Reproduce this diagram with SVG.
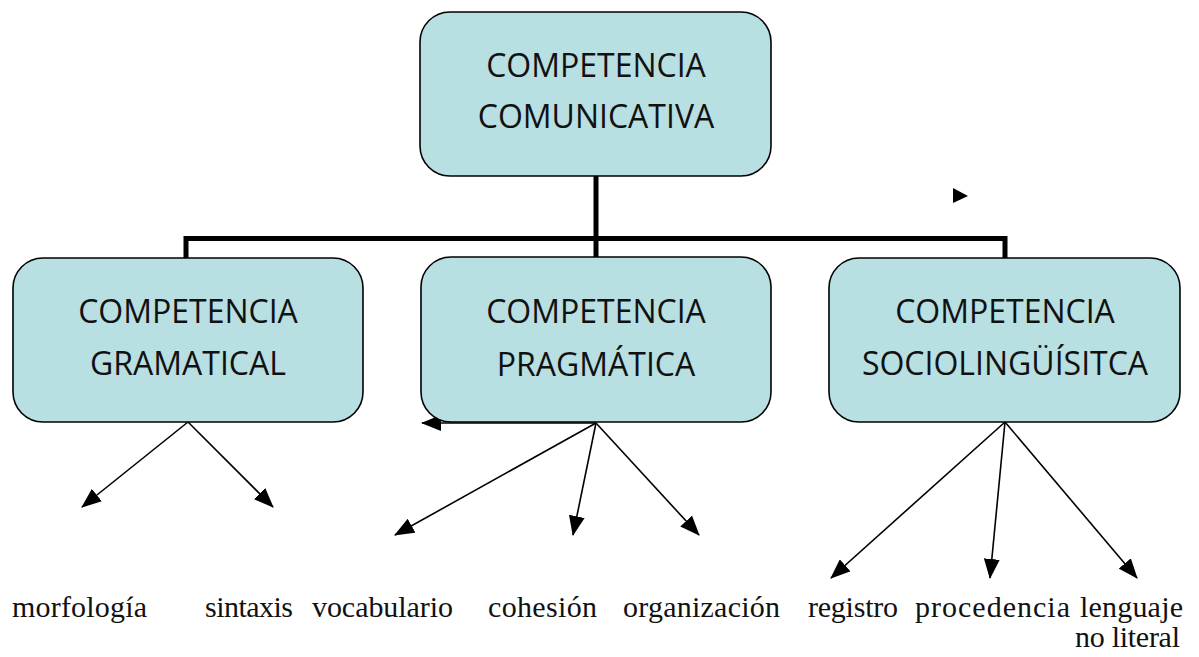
<svg xmlns="http://www.w3.org/2000/svg" width="1199" height="657" viewBox="0 0 1199 657">
<style>
.box{fill:#b8dfe2;stroke:#000;stroke-width:1.6}
.bt{font-family:"Open Sans","Liberation Sans",sans-serif;font-size:32px;fill:#111;text-anchor:middle}
.lb{font-family:"Liberation Serif","DejaVu Serif",serif;font-size:30px;fill:#111}
.thick{fill:none;stroke:#000;stroke-width:5}
.arr{fill:none;stroke:#000;stroke-width:1.6;marker-end:url(#ah)}
</style>
<defs>
<marker id="ah" markerUnits="userSpaceOnUse" markerWidth="20" markerHeight="16" viewBox="0 0 20 16" refX="19" refY="8" orient="auto">
<path d="M0,0 L20,8 L0,16 Z" fill="#000"/>
</marker>
</defs>
<g id="connectors">
<path class="thick" d="M596,176 V257"/>
<path class="thick" d="M186,258 V238.5 H1005 V258"/>
<line class="arr" x1="188" y1="422" x2="82" y2="507"/>
<line class="arr" x1="188" y1="422" x2="273" y2="507"/>
<line class="arr" x1="596" y1="423" x2="422" y2="423"/>
<line class="arr" x1="596" y1="423" x2="395" y2="535"/>
<line class="arr" x1="596" y1="423" x2="573" y2="535"/>
<line class="arr" x1="596" y1="423" x2="699" y2="535"/>
<line class="arr" x1="1005" y1="422" x2="831" y2="578"/>
<line class="arr" x1="1005" y1="422" x2="990" y2="578"/>
<line class="arr" x1="1005" y1="422" x2="1137" y2="578"/>
<path d="M953,188 L968,196 L953,203 Z" fill="#000"/>
</g>
<g id="node-comunicativa">
<rect class="box" x="420" y="12" width="351" height="164" rx="30"/>
<text class="bt" x="596" y="77">COMPETENCIA</text>
<text class="bt" x="596" y="128">COMUNICATIVA</text>
</g>
<g id="node-gramatical">
<rect class="box" x="13" y="258" width="350" height="164" rx="30"/>
<text class="bt" x="188" y="323">COMPETENCIA</text>
<text class="bt" x="188" y="375">GRAMATICAL</text>
</g>
<g id="node-pragmatica">
<rect class="box" x="421" y="257" width="350" height="165" rx="30"/>
<text class="bt" x="596" y="323">COMPETENCIA</text>
<text class="bt" x="596" y="376">PRAGMÁTICA</text>
</g>
<g id="node-sociolinguistica">
<rect class="box" x="829" y="258" width="351" height="164" rx="30"/>
<text class="bt" x="1005" y="323">COMPETENCIA</text>
<text class="bt" x="1005" y="375">SOCIOLINGÜÍSITCA</text>
</g>
<g id="labels">
<text class="lb" x="12" y="617" textLength="135">morfología</text>
<text class="lb" x="205" y="617" textLength="88">sintaxis</text>
<text class="lb" x="312" y="617" textLength="141">vocabulario</text>
<text class="lb" x="488" y="617" textLength="109">cohesión</text>
<text class="lb" x="623" y="617" textLength="157">organización</text>
<text class="lb" x="808" y="617" textLength="90">registro</text>
<text class="lb" x="915" y="617" textLength="155">procedencia</text>
<text class="lb" x="1080" y="617" textLength="103">lenguaje</text>
<text class="lb" x="1075" y="647" textLength="105">no literal</text>
</g>
</svg>
